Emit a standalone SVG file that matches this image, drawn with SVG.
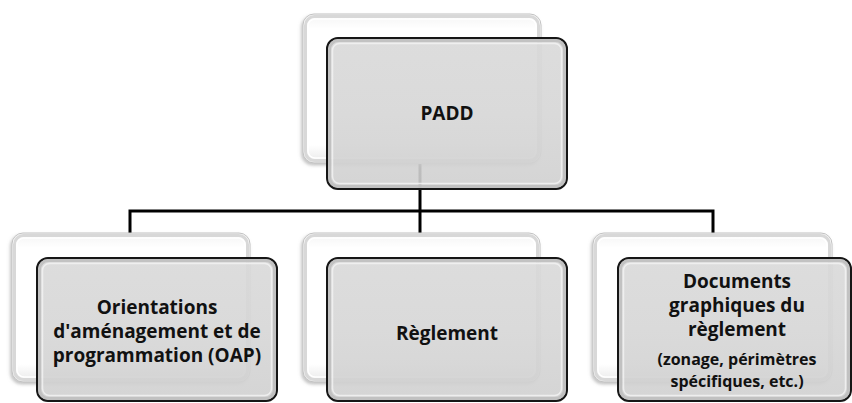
<svg xmlns="http://www.w3.org/2000/svg" width="852" height="403" viewBox="0 0 852 403">
  <defs>
    <linearGradient id="backFill" x1="0" y1="0" x2="0" y2="1">
      <stop offset="0" stop-color="#f4f4f4"/>
      <stop offset="0.1" stop-color="#ffffff"/>
      <stop offset="0.88" stop-color="#ffffff"/>
      <stop offset="1" stop-color="#e8e8e8"/>
    </linearGradient>
    <linearGradient id="frontFill" x1="0" y1="0" x2="0" y2="1">
      <stop offset="0" stop-color="#d9d9d9"/>
      <stop offset="0.5" stop-color="#d6d6d6"/>
      <stop offset="1" stop-color="#d0d0d0"/>
    </linearGradient>
    <filter id="backShadow" x="-10%" y="-10%" width="120%" height="125%">
      <feDropShadow dx="-1.5" dy="2" stdDeviation="1.5" flood-color="#8a8a8a" flood-opacity="0.5"/>
    </filter>
  </defs>
  <style>
    .back { fill: url(#backFill); stroke: #c2c2c2; stroke-width: 1; filter: url(#backShadow); }
    .back-band { fill: none; stroke: #d8d8d8; stroke-width: 3; }
    .back-hi { fill: none; stroke: #ffffff; stroke-width: 1.5; }
    .front { fill: url(#frontFill); fill-opacity: 0.9; stroke: #161616; stroke-width: 2; }
    .front-band { fill: none; stroke: #bcbcbc; stroke-opacity: 0.8; stroke-width: 3; }
    .front-hi { fill: none; stroke: #f4f4f4; stroke-opacity: 0.8; stroke-width: 1.5; }
    .link { fill: none; stroke: #000; stroke-width: 3; }
    .label { font-family: "Open Sans", "Liberation Sans", sans-serif; font-weight: bold; fill: #111; text-anchor: middle; font-variant-ligatures: none; }
    .big { font-size: 19px; }
    .small { font-size: 16px; }
  </style>

  <!-- tree connectors -->
  <g id="connectors">
    <path class="link" d="M420 164 V233"/>
    <path class="link" d="M130 233 V211 H713 V233"/>
  </g>

  <g id="node-padd">
    <rect class="back" x="303" y="14" width="238" height="149" rx="11"/>
    <rect class="back-band" x="305.5" y="16.5" width="233" height="144" rx="9"/>
    <rect class="back-hi" x="308" y="19" width="228" height="139" rx="7"/>
    <rect class="front" x="327" y="38" width="240" height="151" rx="11"/>
    <rect class="front-band" x="329.5" y="40.5" width="235" height="146" rx="9"/>
    <rect class="front-hi" x="332.5" y="43.5" width="229" height="140" rx="7"/>
    <text class="label big" x="447" y="120">PADD</text>
  </g>

  <g id="node-oap">
    <rect class="back" x="12" y="233" width="238" height="149" rx="11"/>
    <rect class="back-band" x="14.5" y="235.5" width="233" height="144" rx="9"/>
    <rect class="back-hi" x="17" y="238" width="228" height="139" rx="7"/>
    <rect class="front" x="37" y="258" width="240" height="143" rx="11"/>
    <rect class="front-band" x="39.5" y="260.5" width="235" height="138" rx="9"/>
    <rect class="front-hi" x="42.5" y="263.5" width="229" height="132" rx="7"/>
    <text class="label big" x="157" y="314">Orientations</text>
    <text class="label big" x="157" y="338">d'aménagement et de</text>
    <text class="label big" x="157" y="362">programmation (OAP)</text>
  </g>

  <g id="node-reglement">
    <rect class="back" x="303" y="233" width="237" height="149" rx="11"/>
    <rect class="back-band" x="305.5" y="235.5" width="232" height="144" rx="9"/>
    <rect class="back-hi" x="308" y="238" width="227" height="139" rx="7"/>
    <rect class="front" x="327" y="258" width="240" height="143" rx="11"/>
    <rect class="front-band" x="329.5" y="260.5" width="235" height="138" rx="9"/>
    <rect class="front-hi" x="332.5" y="263.5" width="229" height="132" rx="7"/>
    <text class="label big" x="447" y="340">Règlement</text>
  </g>

  <g id="node-documents">
    <rect class="back" x="593" y="233" width="239" height="149" rx="11"/>
    <rect class="back-band" x="595.5" y="235.5" width="234" height="144" rx="9"/>
    <rect class="back-hi" x="598" y="238" width="229" height="139" rx="7"/>
    <rect class="front" x="618" y="258" width="233" height="143" rx="11"/>
    <rect class="front-band" x="620.5" y="260.5" width="228" height="138" rx="9"/>
    <rect class="front-hi" x="623.5" y="263.5" width="222" height="132" rx="7"/>
    <text class="label big" x="737" y="288">Documents</text>
    <text class="label big" x="737" y="312">graphiques du</text>
    <text class="label big" x="737" y="336">règlement</text>
    <text class="label small" x="737" y="365">(zonage, périmètres</text>
    <text class="label small" x="737" y="387">spécifiques, etc.)</text>
  </g>
</svg>
